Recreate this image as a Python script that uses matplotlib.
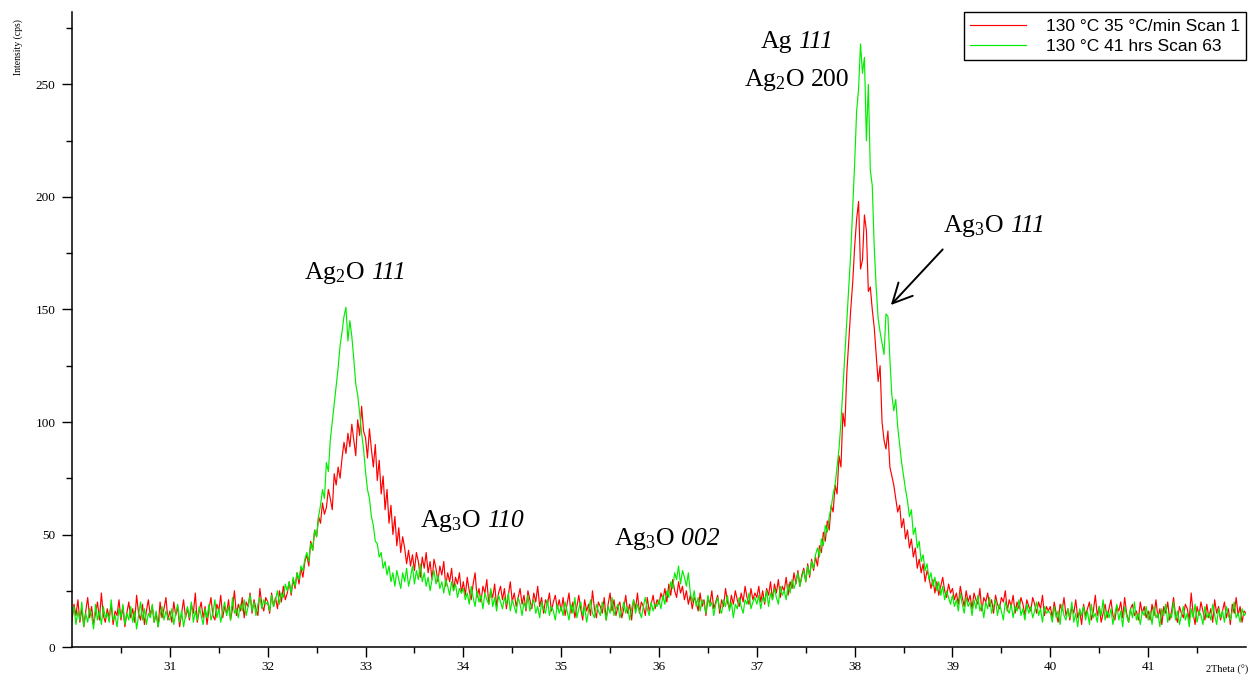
import matplotlib
matplotlib.use("Agg")
import matplotlib.pyplot as plt
from matplotlib.offsetbox import TextArea, HPacker, AnnotationBbox
import numpy as np

# scan grid, 2theta in degrees (0.02 deg step)
two_theta = np.round(np.arange(30.0, 42.0001, 0.02), 2)

# 130 C, 35 C/min, scan 1 (cps); five lines of ten points per degree
scan1 = [
    # 30
    12, 19, 14, 21, 11, 17, 9, 16, 22, 13,
    18, 10, 15, 20, 12, 24, 14, 11, 17, 13,
    19, 10, 16, 14, 21, 12, 18, 9, 15, 20,
    13, 17, 11, 23, 15, 12, 19, 10, 16, 21,
    14, 18, 11, 15, 9, 20, 13, 17, 22, 12,
    # 31
    16, 11, 20, 14, 18, 9, 15, 21, 13, 17,
    12, 19, 15, 24, 11, 16, 20, 13, 18, 10,
    17, 22, 14, 12, 19, 16, 23, 13, 18, 15,
    21, 12, 17, 25, 14, 19, 16, 22, 13, 20,
    18, 24, 15, 21, 17, 14, 26, 19, 16, 22,
    # 32
    20, 15, 24, 18, 22, 17, 25, 20, 27, 21,
    24, 29, 23, 30, 26, 33, 28, 35, 31, 38,
    41, 36, 47, 43, 52, 49, 58, 55, 64, 59,
    62, 70, 66, 61, 77, 72, 80, 75, 84, 91,
    86, 95, 89, 99, 92, 85, 101, 94, 107, 96,
    # 33
    93, 84, 97, 88, 80, 90, 74, 83, 68, 76,
    61, 70, 55, 63, 50, 58, 45, 53, 42, 49,
    44, 37, 43, 36, 41, 34, 42, 38, 31, 40,
    35, 42, 33, 38, 30, 39, 35, 29, 36, 32,
    38, 27, 33, 29, 35, 25, 31, 28, 33, 24,
    # 34
    29, 23, 31, 25, 21, 28, 33, 22, 26, 20,
    27, 24, 30, 19, 25, 22, 28, 18, 24, 27,
    21, 26, 17, 23, 29, 20, 24, 18, 22, 26,
    19, 23, 16, 25, 21, 17, 24, 20, 27, 18,
    22, 15, 21, 19, 24, 16, 20, 23, 17, 21,
    # 35
    16, 22, 14, 19, 24, 15, 20, 13, 18, 23,
    17, 12, 21, 16, 19, 14, 25, 17, 13, 20,
    18, 15, 22, 12, 19, 24, 16, 21, 14, 18,
    20, 13, 17, 23, 15, 19, 12, 21, 17, 24,
    15, 20, 18, 14, 22, 16, 19, 23, 17, 21,
    # 36
    19, 24, 21, 26, 20, 28, 23, 30, 25, 22,
    29, 24, 27, 21, 25, 19, 23, 17, 22, 20,
    16, 24, 18, 21, 14, 22, 19, 25, 17, 20,
    23, 15, 21, 18, 26, 20, 17, 23, 19, 25,
    21, 18, 24, 20, 27, 22, 19, 26, 21, 24,
    # 37
    22, 27, 20, 25, 19, 26, 23, 29, 21, 28,
    24, 30, 22, 27, 25, 31, 23, 29, 26, 33,
    28, 34, 27, 32, 35, 29, 37, 31, 39, 34,
    40, 36, 45, 42, 51, 47, 56, 52, 63, 60,
    72, 68, 85, 80, 104, 98, 122, 136, 150, 162,
    # 38
    178, 190, 198, 168, 172, 192, 185, 158, 160, 150,
    142, 130, 118, 125, 100, 92, 88, 96, 80, 76,
    72, 66, 60, 63, 53, 57, 48, 52, 44, 48,
    40, 44, 35, 39, 33, 37, 29, 34, 31, 26,
    30, 24, 29, 23, 27, 31, 25, 22, 28, 24,
    # 39
    26, 21, 24, 19, 27, 22, 18, 25, 20, 23,
    17, 24, 21, 19, 26, 16, 22, 20, 24, 18,
    21, 15, 23, 19, 17, 22, 20, 25, 16, 21,
    18, 23, 15, 20, 17, 22, 19, 14, 21, 18,
    16, 22, 19, 15, 20, 17, 23, 14, 18, 16,
    # 40
    18, 13, 20, 15, 11, 19, 16, 22, 14, 17,
    12, 18, 15, 21, 13, 16, 10, 19, 14, 17,
    20, 12, 16, 23, 14, 18, 11, 15, 19, 13,
    17, 21, 14, 12, 18, 16, 20, 13, 22, 15,
    11, 17, 19, 14, 16, 12, 20, 15, 18, 13,
    # 41
    16, 12, 19, 14, 21, 13, 17, 10, 18, 15,
    20, 12, 16, 22, 14, 11, 18, 15, 13, 19,
    17, 12, 24, 15, 10, 18, 14, 20, 16, 12,
    19, 13, 17, 11, 21, 15, 18, 12, 16, 20,
    13, 17, 10, 19, 15, 22, 14, 18, 11, 16,
    15,
]

# 130 C after 41 hrs, scan 63
scan63 = [
    # 30
    13, 18, 10, 16, 12, 20, 9, 15, 11, 17,
    14, 8, 19, 12, 16, 10, 18, 13, 15, 11,
    21, 12, 14, 9, 17, 13, 19, 10, 15, 12,
    18, 11, 16, 8, 14, 20, 12, 17, 10, 15,
    13, 19, 11, 16, 9, 14, 18, 12, 16, 13,
    # 31
    12, 17, 10, 15, 19, 11, 16, 9, 14, 18,
    13, 20, 11, 16, 12, 18, 14, 10, 17, 13,
    19, 12, 15, 21, 13, 17, 11, 16, 20, 14,
    18, 12, 22, 15, 17, 13, 19, 16, 21, 14,
    18, 23, 16, 20, 14, 19, 22, 17, 21, 19,
    # 32
    20, 16, 23, 18, 21, 25, 19, 24, 22, 28,
    25, 29, 24, 31, 27, 33, 30, 36, 34, 39,
    42, 38, 46, 43, 52, 49, 58, 63, 70, 66,
    82, 78, 92, 100, 108, 116, 124, 134, 140, 147,
    151, 136, 145, 138, 128, 117, 112, 104, 95, 88,
    # 33
    78, 70, 66, 58, 54, 47, 46, 40, 42, 35,
    38, 32, 36, 29, 33, 27, 34, 30, 26, 33,
    29, 35, 27, 31, 36, 28, 34, 30, 37, 29,
    33, 27, 31, 25, 30, 34, 28, 32, 26, 29,
    24, 30, 27, 23, 29, 25, 28, 22, 26, 24,
    # 34
    26, 21, 24, 19, 27, 22, 18, 25, 20, 23,
    17, 24, 21, 19, 26, 18, 22, 16, 23, 20,
    17, 22, 19, 24, 16, 21, 18, 15, 22, 19,
    14, 20, 17, 23, 16, 19, 21, 15, 18, 13,
    20, 17, 15, 21, 14, 18, 16, 12, 19, 15,
    # 35
    18, 14, 20, 16, 12, 19, 15, 22, 13, 17,
    20, 14, 18, 11, 16, 21, 15, 13, 19, 16,
    14, 20, 17, 12, 18, 15, 22, 14, 17, 19,
    13, 16, 20, 15, 18, 12, 17, 21, 15, 19,
    16, 13, 18, 22, 17, 14, 20, 16, 19, 18,
    # 36
    21, 17, 23, 19, 25, 22, 29, 26, 33, 30,
    36, 28, 34, 31, 27, 33, 24, 20, 25, 18,
    22, 16, 21, 19, 15, 23, 18, 20, 14, 19,
    22, 17, 15, 21, 18, 23, 16, 20, 13, 19,
    17, 22, 18, 15, 21, 19, 24, 17, 20, 22,
    # 37
    19, 23, 17, 22, 20, 25, 18, 24, 21, 26,
    22, 19, 27, 23, 25, 21, 28, 24, 30, 26,
    29, 33, 27, 31, 34, 29, 36, 32, 38, 35,
    41, 44, 40, 48, 45, 54, 51, 58, 62, 68,
    72, 80, 88, 100, 115, 130, 145, 160, 175, 195,
    # 38
    215, 238, 248, 268, 255, 262, 225, 250, 212, 205,
    178, 160, 146, 140, 135, 130, 148, 147, 128, 112,
    105, 110, 98, 90, 82, 76, 70, 65, 58, 61,
    50, 53, 44, 47, 38, 41, 34, 37, 30, 33,
    27, 31, 25, 29, 23, 27, 21, 25, 22, 19,
    # 39
    23, 18, 21, 16, 24, 19, 15, 22, 18, 20,
    14, 21, 17, 23, 16, 19, 13, 20, 17, 22,
    15, 18, 21, 14, 19, 16, 12, 20, 17, 15,
    19, 13, 18, 16, 21, 14, 17, 12, 19, 15,
    18, 13, 16, 20, 14, 17, 11, 18, 15, 16,
    # 40
    15, 11, 18, 13, 16, 10, 19, 14, 12, 17,
    13, 20, 11, 15, 9, 17, 14, 18, 12, 16,
    10, 19, 13, 15, 11, 18, 14, 21, 12, 16,
    13, 17, 10, 15, 19, 12, 16, 9, 18, 14,
    11, 17, 13, 20, 12, 15, 10, 16, 14, 18,
    # 41
    12, 16, 10, 18, 13, 15, 9, 17, 14, 19,
    11, 15, 13, 20, 12, 16, 10, 14, 18, 12,
    15, 9, 17, 13, 19, 11, 16, 14, 10, 18,
    13, 15, 12, 19, 14, 10, 17, 13, 16, 11,
    18, 14, 12, 16, 20, 13, 15, 11, 17, 14,
    15,
]

series_labels = ["130 °C 35 °C/min Scan 1", "130 °C 41 hrs Scan 63"]
series_colors = ["#ff0000", "#00ee00"]

# reflection labels: phase, hkl, italic hkl?, x, y
peak_labels = [
    ("Ag$_2$O", "111", True, 32.89, 166),
    ("Ag$_3$O", "110", True, 34.09, 56),
    ("Ag$_3$O", "002", True, 36.08, 48),
    ("Ag", "111", True, 37.41, 269),
    ("Ag$_2$O", "200", False, 37.41, 252),
    ("Ag$_3$O", "111", True, 39.42, 187),
]
arrow_tail = (38.90, 176.7)
arrow_head = (38.37, 152)

assert len(scan1) == len(two_theta) == len(scan63), (len(scan1), len(scan63), len(two_theta))

plt.rcParams["font.family"] = "Liberation Serif"
plt.rcParams["mathtext.fontset"] = "custom"
plt.rcParams["mathtext.rm"] = "Liberation Serif"
plt.rcParams["mathtext.it"] = "Liberation Serif:italic"

fig = plt.figure(figsize=(12.55, 6.82), dpi=100)
ax = fig.add_axes([0.0574, 0.0513, 0.9354, 0.9304])

for vals, lab, col in zip([scan1, scan63], series_labels, series_colors):
    ax.plot(two_theta, vals, color=col, lw=0.85, label=lab)

ax.set_xlim(30, 42)
ax.set_ylim(0, 282)
ax.set_xticks(np.arange(31, 42, 1))
ax.set_xticks(np.arange(30.5, 42, 1), minor=True)
ax.set_yticks(np.arange(0, 251, 50))
ax.set_yticks(np.arange(25, 280, 50), minor=True)
ax.tick_params(which="major", direction="out", length=7, width=1, labelsize=9.5, pad=3)
ax.tick_params(which="minor", direction="out", length=4, width=1)
ax.tick_params(axis="y", pad=5)
for s in ["top", "right"]:
    ax.spines[s].set_visible(False)
for s in ["left", "bottom"]:
    ax.spines[s].set_linewidth(1.1)

fig.text(0.0143, 1 - 47 / 682, "Intensity (cps)", rotation=90, ha="center", va="center", fontsize=7)
fig.text(1227 / 1255, 1 - 670 / 682, "2Theta (°)", ha="center", va="center", fontsize=7.5)


def hkl_label(phase, hkl, italic, x, y, size=18.5):
    parts = [
        TextArea(phase, textprops=dict(fontsize=size, family="Liberation Serif")),
        TextArea(hkl, textprops=dict(fontsize=size, family="Liberation Serif",
                                     style="italic" if italic else "normal")),
    ]
    box = HPacker(children=parts, align="baseline", pad=0, sep=4.5)
    ab = AnnotationBbox(box, (x, y), xycoords="data", frameon=False,
                        box_alignment=(0.5, 0.5), pad=0)
    ax.add_artist(ab)


for phase, hkl, italic, x, y in peak_labels:
    hkl_label(phase, hkl, italic, x, y)

ax.annotate("", xy=arrow_head, xytext=arrow_tail,
            arrowprops=dict(arrowstyle="->,head_length=0.7,head_width=0.35", lw=1.4,
                            color="black", mutation_scale=20, shrinkA=0, shrinkB=0))

leg = ax.legend(loc="upper right", bbox_to_anchor=(1.0, 1.0), borderaxespad=0,
                prop={"family": "Liberation Sans", "size": 12.5}, fancybox=False,
                edgecolor="black", framealpha=1, handlelength=3.2, handletextpad=1.15,
                borderpad=0.35, labelspacing=0.32)
leg.get_frame().set_linewidth(1.0)

fig.savefig("out.png", dpi=100)
